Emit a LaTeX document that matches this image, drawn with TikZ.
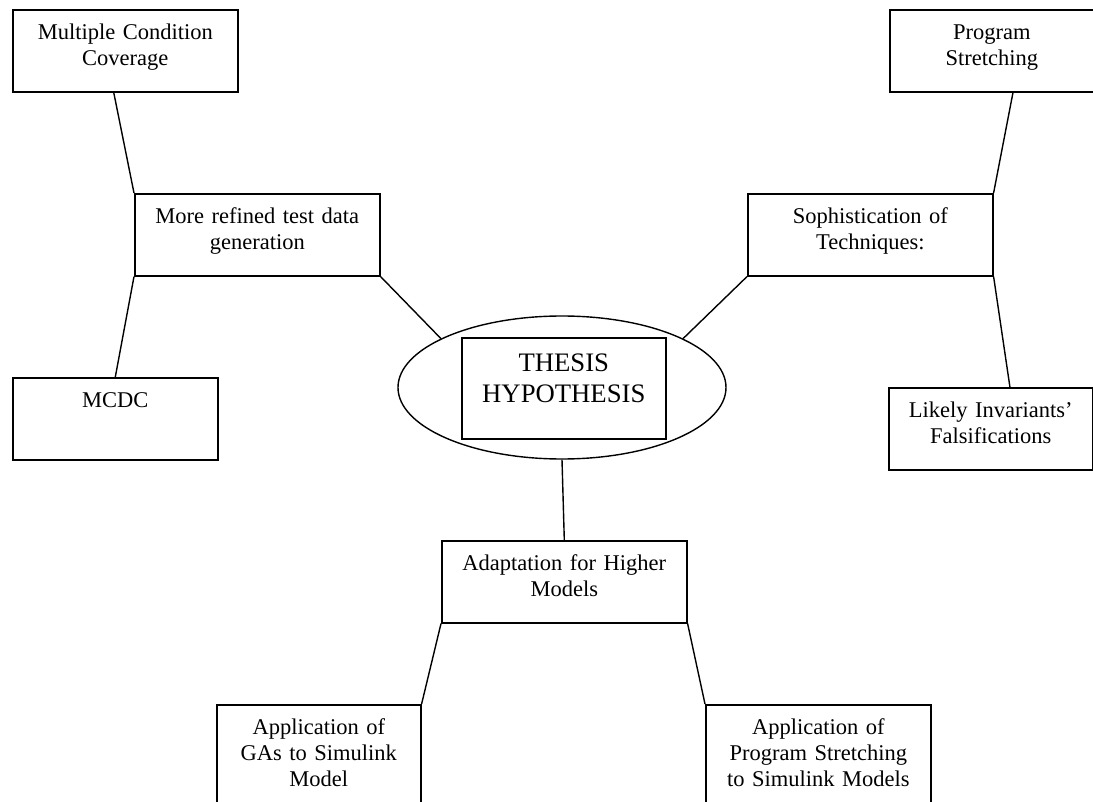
\documentclass[tikz,border=0pt]{standalone}
\usepackage{fontspec}
\setmainfont{Liberation Serif}
\usepackage{tikz}
\usetikzlibrary{calc,shapes.geometric}
\tikzset{
  kbox/.style={draw, line width=1.6pt, inner sep=0pt, align=center, anchor=north west,
    text width=#1, text height=30pt, text depth=52pt, font=\fontsize{22.5}{26}\selectfont},
  kline/.style={line width=1.4pt}
}
\begin{document}
\begin{tikzpicture}[x=1pt,y=-1pt]
\useasboundingbox (0,0) rectangle (1093,802);
\clip (0,0) rectangle (1093,802);
%中心%
\node[draw, ellipse, line width=1.4pt, minimum width=328pt, minimum height=143pt, inner sep=0pt] (hypo) at (562,387.5) {};
\node[kbox=204pt, text height=34pt, text depth=67pt, font=\fontsize{26.7}{31}\selectfont] (thesis) at (461,337) {THESIS\\HYPOTHESIS};
%左%
\node[kbox=225pt] (mcc) at (12,9) {Multiple Condition\\Coverage};
\node[kbox=245pt] (mrtd) at (134,193) {More refined test data\\generation};
\node[kbox=205pt] (mcdc) at (12,377) {MCDC};
%右%
\node[kbox=204pt] (ps) at (889,9) {Program\\Stretching};
\node[kbox=245pt] (sot) at (747,193) {Sophistication of\\Techniques:};
\node[kbox=204pt] (lif) at (888,387) {Likely Invariants’\\Falsifications};
%下%
\node[kbox=245pt] (ahm) at (441,540) {Adaptation for Higher\\Models};
\node[kbox=204pt, text depth=80pt] (gas) at (216,704) {Application of\\GAs to Simulink\\Model};
\node[kbox=225pt, text depth=80pt] (pss) at (705,704) {Application of\\Program Stretching\\to Simulink Models};
%線%
\draw[kline] ($(mcc.south west)!0.449!(mcc.south east)$) -- (mrtd.north west);
\draw[kline] (mrtd.south west) -- (mcdc.north);
\draw[kline] (mrtd.south east) -- (hypo.158);
\draw[kline] ($(ps.south west)!0.603!(ps.south east)$) -- (sot.north east);
\draw[kline] (sot.south west) -- (hypo.22);
\draw[kline] (sot.south east) -- ($(lif.north west)!0.593!(lif.north east)$);
\draw[kline] (hypo.south) -- (ahm.north);
\draw[kline] (ahm.south west) -- (gas.north east);
\draw[kline] (ahm.south east) -- (pss.north west);
\end{tikzpicture}
\end{document}
